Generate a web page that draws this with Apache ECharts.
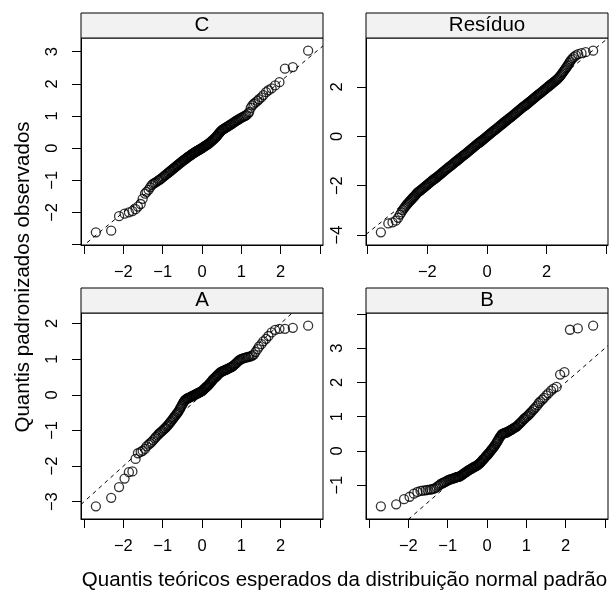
<!DOCTYPE html>
<html>
<head>
<meta charset="utf-8">
<script src="https://cdn.jsdelivr.net/npm/echarts@6/dist/echarts.min.js"></script>
<style>
  html, body { margin: 0; padding: 0; background: #fff; }
  #chart { width: 615px; height: 592px; }
</style>
</head>
<body>
<div id="chart"></div>
<script>
// Theoretical normal quantiles shared by the C, A and B panels (144 observations each)
const quantisTeoricos = [
  -2.70,-2.31,-2.11,-1.97,-1.86,-1.77,-1.69,-1.63,-1.56,-1.51,
  -1.45,-1.41,-1.36,-1.32,-1.28,-1.24,-1.20,-1.17,-1.13,-1.10,
  -1.07,-1.04,-1.01,-0.98,-0.95,-0.93,-0.90,-0.87,-0.85,-0.82,
  -0.80,-0.78,-0.75,-0.73,-0.71,-0.69,-0.66,-0.64,-0.62,-0.60,
  -0.58,-0.56,-0.54,-0.52,-0.50,-0.48,-0.46,-0.44,-0.42,-0.40,
  -0.38,-0.37,-0.35,-0.33,-0.31,-0.29,-0.27,-0.26,-0.24,-0.22,
  -0.20,-0.18,-0.17,-0.15,-0.13,-0.11,-0.10,-0.08,-0.06,-0.04,
  -0.03,-0.01,
  0.01,0.03,0.04,0.06,0.08,0.10,0.11,0.13,0.15,0.17,
  0.18,0.20,0.22,0.24,0.26,0.27,0.29,0.31,0.33,0.35,
  0.37,0.38,0.40,0.42,0.44,0.46,0.48,0.50,0.52,0.54,
  0.56,0.58,0.60,0.62,0.64,0.66,0.69,0.71,0.73,0.75,
  0.78,0.80,0.82,0.85,0.87,0.90,0.93,0.95,0.98,1.01,
  1.04,1.07,1.10,1.13,1.17,1.20,1.24,1.28,1.32,1.36,
  1.41,1.45,1.51,1.56,1.63,1.69,1.77,1.86,1.97,2.11,
  2.31,2.70
];

// Observed standardized quantiles, panel C
const observadosC = [
  -2.62,-2.57,-2.12,-2.04,-2.00,-1.96,-1.90,-1.82,-1.74,-1.58,
  -1.42,-1.36,-1.30,-1.22,-1.15,-1.11,-1.08,-1.06,-1.03,-1.00,
  -0.98,-0.95,-0.92,-0.89,-0.86,-0.84,-0.81,-0.78,-0.76,-0.73,
  -0.71,-0.69,-0.66,-0.64,-0.62,-0.60,-0.57,-0.55,-0.53,-0.51,
  -0.49,-0.47,-0.45,-0.43,-0.41,-0.39,-0.37,-0.36,-0.34,-0.32,
  -0.30,-0.29,-0.27,-0.26,-0.24,-0.22,-0.21,-0.19,-0.18,-0.16,
  -0.15,-0.13,-0.12,-0.11,-0.09,-0.08,-0.07,-0.06,-0.04,-0.03,
  -0.02,-0.01,
  0.01,0.02,0.04,0.05,0.07,0.08,0.09,0.11,0.12,0.14,
  0.15,0.17,0.19,0.21,0.23,0.25,0.27,0.29,0.31,0.34,
  0.36,0.38,0.41,0.44,0.47,0.50,0.53,0.55,0.57,0.59,
  0.60,0.62,0.63,0.65,0.66,0.68,0.70,0.72,0.73,0.75,
  0.77,0.79,0.81,0.83,0.85,0.87,0.89,0.91,0.93,0.95,
  0.97,0.99,1.00,1.03,1.07,1.12,1.25,1.33,1.38,1.42,
  1.47,1.52,1.58,1.65,1.74,1.80,1.86,1.95,2.05,2.47,
  2.52,3.03
];

// Observed standardized quantiles, panel A
const observadosA = [
  -3.13,-2.89,-2.59,-2.35,-2.17,-2.15,-1.80,-1.64,-1.60,-1.57,
  -1.52,-1.45,-1.40,-1.36,-1.32,-1.27,-1.22,-1.18,-1.14,-1.10,
  -1.07,-1.04,-1.01,-0.98,-0.95,-0.93,-0.89,-0.86,-0.83,-0.79,
  -0.76,-0.73,-0.69,-0.66,-0.63,-0.60,-0.56,-0.53,-0.50,-0.47,
  -0.43,-0.39,-0.35,-0.31,-0.27,-0.23,-0.19,-0.16,-0.14,-0.12,
  -0.11,-0.10,-0.09,-0.08,-0.07,-0.06,-0.05,-0.04,-0.03,-0.02,
  -0.01,0.00,0.01,0.02,0.03,0.04,0.05,0.06,0.07,0.08,
  0.09,0.10,
  0.11,0.13,0.15,0.17,0.19,0.21,0.22,0.24,0.26,0.28,
  0.30,0.32,0.35,0.37,0.40,0.42,0.44,0.46,0.48,0.50,
  0.52,0.54,0.56,0.58,0.60,0.62,0.64,0.65,0.66,0.67,
  0.68,0.69,0.70,0.71,0.72,0.73,0.75,0.76,0.77,0.78,
  0.80,0.82,0.84,0.87,0.89,0.92,0.95,0.97,0.99,1.01,
  1.02,1.03,1.04,1.05,1.06,1.07,1.08,1.10,1.13,1.20,
  1.28,1.35,1.42,1.50,1.57,1.65,1.75,1.82,1.85,1.85,
  1.88,1.94
];

// Observed standardized quantiles, panel B
const observadosB = [
  -1.62,-1.56,-1.41,-1.34,-1.25,-1.20,-1.17,-1.16,-1.15,-1.14,
  -1.13,-1.12,-1.11,-1.09,-1.06,-1.02,-0.99,-0.96,-0.94,-0.92,
  -0.91,-0.89,-0.87,-0.85,-0.84,-0.83,-0.82,-0.81,-0.80,-0.79,
  -0.78,-0.77,-0.76,-0.76,-0.75,-0.74,-0.72,-0.70,-0.69,-0.67,
  -0.65,-0.64,-0.62,-0.61,-0.59,-0.57,-0.56,-0.55,-0.53,-0.52,
  -0.51,-0.50,-0.48,-0.47,-0.46,-0.45,-0.44,-0.43,-0.41,-0.40,
  -0.38,-0.36,-0.34,-0.32,-0.30,-0.27,-0.25,-0.23,-0.21,-0.18,
  -0.16,-0.14,
  -0.12,-0.09,-0.07,-0.05,-0.02,0.01,0.03,0.05,0.08,0.11,
  0.13,0.16,0.20,0.23,0.27,0.29,0.33,0.37,0.41,0.44,
  0.47,0.49,0.50,0.51,0.52,0.53,0.53,0.54,0.55,0.57,
  0.58,0.59,0.61,0.62,0.63,0.65,0.67,0.68,0.70,0.71,
  0.74,0.77,0.79,0.82,0.85,0.88,0.92,0.94,0.97,1.00,
  1.03,1.07,1.10,1.14,1.19,1.23,1.28,1.33,1.40,1.45,
  1.50,1.55,1.62,1.68,1.76,1.82,1.87,2.23,2.30,3.54,
  3.58,3.66
];

// Residual panel: theoretical and observed quantiles along the dense band
const residuoX = [
  -3.56,-3.31,-3.17,-3.06,-2.98,-2.92,-2.87,-2.83,-2.79,-2.76,-2.73,
  -2.70,-2.67,-2.64,-2.61,-2.58,-2.55,-2.52,-2.49,-2.46,-2.43,
  -2.40,-2.37,-2.34,-2.31,-2.28,-2.25,-2.22,-2.19,-2.16,-2.13,
  -2.10,-2.07,-2.04,-2.01,-1.98,-1.95,-1.92,-1.89,-1.86,-1.83,
  -1.80,-1.77,-1.74,-1.71,-1.68,-1.65,-1.62,-1.59,-1.56,-1.53,
  -1.50,-1.47,-1.44,-1.41,-1.38,-1.35,-1.32,-1.29,-1.26,-1.23,
  -1.20,-1.17,-1.14,-1.11,-1.08,-1.05,-1.02,-0.99,-0.96,-0.93,
  -0.90,-0.87,-0.84,-0.81,-0.78,-0.75,-0.72,-0.69,-0.66,-0.63,
  -0.60,-0.57,-0.54,-0.51,-0.48,-0.45,-0.42,-0.39,-0.36,-0.33,
  -0.30,-0.27,-0.24,-0.21,-0.18,-0.15,-0.12,-0.09,-0.06,-0.03,
  0.00,
  0.03,0.06,0.09,0.12,0.15,0.18,0.21,0.24,0.27,0.30,
  0.33,0.36,0.39,0.42,0.45,0.48,0.51,0.54,0.57,0.60,
  0.63,0.66,0.69,0.72,0.75,0.78,0.81,0.84,0.87,0.90,
  0.93,0.96,0.99,1.02,1.05,1.08,1.11,1.14,1.17,1.20,
  1.23,1.26,1.29,1.32,1.35,1.38,1.41,1.44,1.47,1.50,
  1.53,1.56,1.59,1.62,1.65,1.68,1.71,1.74,1.77,1.80,
  1.83,1.86,1.89,1.92,1.95,1.98,2.01,2.04,2.07,2.10,
  2.13,2.16,2.19,2.22,2.25,2.28,2.31,2.34,2.37,2.40,
  2.43,2.46,2.49,2.52,2.55,2.58,2.61,2.64,2.67,2.70,
  2.73,2.76,2.79,2.83,2.87,2.92,2.98,3.06,3.17,3.31,3.56
];
const residuoY = [
  -3.89,-3.53,-3.49,-3.42,-3.30,-3.17,-3.08,-2.99,-2.93,-2.88,-2.83,
  -2.78,-2.74,-2.70,-2.66,-2.62,-2.58,-2.54,-2.50,-2.46,-2.42,
  -2.38,-2.33,-2.29,-2.26,-2.23,-2.21,-2.18,-2.15,-2.12,-2.09,
  -2.06,-2.03,-2.00,-1.97,-1.94,-1.91,-1.88,-1.85,-1.82,-1.79,
  -1.76,-1.73,-1.71,-1.68,-1.65,-1.62,-1.59,-1.56,-1.53,-1.50,
  -1.47,-1.44,-1.41,-1.38,-1.35,-1.32,-1.29,-1.26,-1.23,-1.21,
  -1.18,-1.15,-1.12,-1.09,-1.06,-1.03,-1.00,-0.97,-0.94,-0.91,
  -0.88,-0.85,-0.82,-0.79,-0.76,-0.74,-0.71,-0.68,-0.65,-0.62,
  -0.59,-0.56,-0.53,-0.50,-0.47,-0.44,-0.41,-0.38,-0.35,-0.32,
  -0.29,-0.26,-0.24,-0.21,-0.18,-0.15,-0.12,-0.09,-0.06,-0.03,
  0.00,
  0.03,0.06,0.09,0.12,0.15,0.18,0.21,0.24,0.26,0.29,
  0.32,0.35,0.38,0.41,0.44,0.47,0.50,0.53,0.56,0.59,
  0.62,0.65,0.68,0.71,0.74,0.76,0.79,0.82,0.85,0.88,
  0.91,0.94,0.97,1.00,1.03,1.06,1.09,1.12,1.15,1.18,
  1.21,1.23,1.26,1.29,1.32,1.35,1.38,1.41,1.44,1.47,
  1.50,1.53,1.56,1.59,1.62,1.65,1.68,1.71,1.73,1.76,
  1.79,1.82,1.85,1.88,1.91,1.94,1.97,2.00,2.03,2.06,
  2.09,2.12,2.15,2.18,2.21,2.24,2.27,2.30,2.33,2.37,
  2.41,2.45,2.50,2.55,2.60,2.65,2.70,2.75,2.80,2.86,
  2.92,2.98,3.04,3.10,3.16,3.22,3.28,3.33,3.37,3.41,3.47
];

// Panel names, reference line (intercept, slope) and axis ticks / labelled ticks
const nomesPaineis = ['C', 'Resíduo', 'A', 'B'];
const retaIntercepto = [0.04, 0.00, 0.00, 0.00];
const retaInclinacao = [1.02, 0.98, 1.00, 1.00];
const ticksX   = [[-3,-2,-1,0,1,2,3], [-4,-2,0,2,4], [-3,-2,-1,0,1,2,3], [-3,-2,-1,0,1,2,3]];
const rotulosX = [[-2,-1,0,1,2],      [-2,0,2],      [-2,-1,0,1,2],      [-2,-1,0,1,2]];
const ticksY   = [[-3,-2,-1,0,1,2,3], [-4,-2,0,2],   [-3,-2,-1,0,1,2],   [-2,-1,0,1,2,3,4]];
const rotulosY = [[-2,-1,0,1,2,3],    [-4,-2,0,2],   [-3,-2,-1,0,1,2],   [-1,0,1,2,3]];

const tituloX = 'Quantis teóricos esperados da distribuição normal padrão';
const tituloY = 'Quantis padronizados observados';

// ---- layout ----
const FONTE = '"Liberation Sans", Arial, Helvetica, sans-serif';
const caixas = [
  { left: 81,  top: 38,  width: 242, height: 207 },
  { left: 366, top: 38,  width: 242, height: 207 },
  { left: 81,  top: 313, width: 242, height: 206 },
  { left: 366, top: 313, width: 242, height: 206 }
];
const alturaFaixa = 25;

const pontosX = [quantisTeoricos, residuoX, quantisTeoricos, quantisTeoricos];
const pontosY = [observadosC, residuoY, observadosA, observadosB];

// data range widened by 7% on each side
function limites(v) {
  const lo = Math.min.apply(null, v), hi = Math.max.apply(null, v);
  const d = (hi - lo) * 0.07;
  return [lo - d, hi + d];
}
const menos = v => String(v).replace('-', '\u2212');

const grids = [], xAxes = [], yAxes = [], series = [], graficos = [];

nomesPaineis.forEach((nome, i) => {
  const c = caixas[i];
  const limX = limites(pontosX[i]);
  const limY = limites(pontosY[i]);

  grids.push(Object.assign({ show: true, borderColor: '#000', borderWidth: 1,
    backgroundColor: '#fff', containLabel: false, outerBoundsMode: 'none' }, c));

  xAxes.push({
    gridIndex: i, type: 'value', position: 'bottom', min: limX[0], max: limX[1],
    axisLine: { show: true, onZero: false, lineStyle: { color: '#000', width: 1 } },
    axisTick: { show: true, inside: false, length: 9, customValues: ticksX[i],
      lineStyle: { color: '#000', width: 1 } },
    axisLabel: { show: true, customValues: rotulosX[i], margin: 19, color: '#000',
      fontSize: 16.5, fontFamily: FONTE, formatter: menos },
    splitLine: { show: false }
  });
  yAxes.push({
    gridIndex: i, type: 'value', position: 'left', min: limY[0], max: limY[1],
    axisLine: { show: true, onZero: false, lineStyle: { color: '#000', width: 1 } },
    axisTick: { show: true, inside: false, length: 9, customValues: ticksY[i],
      lineStyle: { color: '#000', width: 1 } },
    axisLabel: { show: true, customValues: rotulosY[i], rotate: 90, margin: 20, color: '#000',
      fontSize: 16.5, fontFamily: FONTE, formatter: menos },
    splitLine: { show: false }
  });

  // dashed reference line across the panel
  const a = retaIntercepto[i], b = retaInclinacao[i];
  series.push({
    type: 'line', xAxisIndex: i, yAxisIndex: i, clip: true, symbol: 'none', silent: true,
    data: [[limX[0], a + b * limX[0]], [limX[1], a + b * limX[1]]],
    lineStyle: { color: '#000', width: 1, type: [4, 4] }, z: 2
  });
  // open circles
  series.push({
    type: 'scatter', xAxisIndex: i, yAxisIndex: i, symbol: 'circle', symbolSize: 9,
    silent: true, emphasis: { disabled: true },
    data: pontosX[i].map((x, k) => [x, pontosY[i][k]]),
    itemStyle: { color: 'rgba(0,0,0,0)', borderColor: '#000', borderWidth: 1.3 }, z: 3
  });

  // strip with panel name
  graficos.push({
    type: 'rect', z: 10,
    shape: { x: c.left, y: c.top - alturaFaixa, width: c.width, height: alturaFaixa },
    style: { fill: '#F2F2F2', stroke: '#000', lineWidth: 1 }
  });
  graficos.push({
    type: 'text', z: 11,
    x: c.left + c.width / 2, y: c.top - alturaFaixa / 2,
    style: { text: nome, fill: '#000', font: '20.5px ' + FONTE,
      textAlign: 'center', textVerticalAlign: 'middle' }
  });
});

graficos.push({
  type: 'text', z: 11, x: 344.5, y: 580,
  style: { text: tituloX, fill: '#000', font: '20.5px ' + FONTE,
    textAlign: 'center', textVerticalAlign: 'middle' }
});
graficos.push({
  type: 'text', z: 11, x: 23, y: 277, rotation: Math.PI / 2,
  style: { text: tituloY, fill: '#000', font: '20.5px ' + FONTE,
    textAlign: 'center', textVerticalAlign: 'middle' }
});

const chart = echarts.init(document.getElementById('chart'), null, { renderer: 'canvas' });
chart.setOption({
  animation: false,
  backgroundColor: '#fff',
  grid: grids,
  xAxis: xAxes,
  yAxis: yAxes,
  series: series,
  graphic: graficos
});
</script>
</body>
</html>
